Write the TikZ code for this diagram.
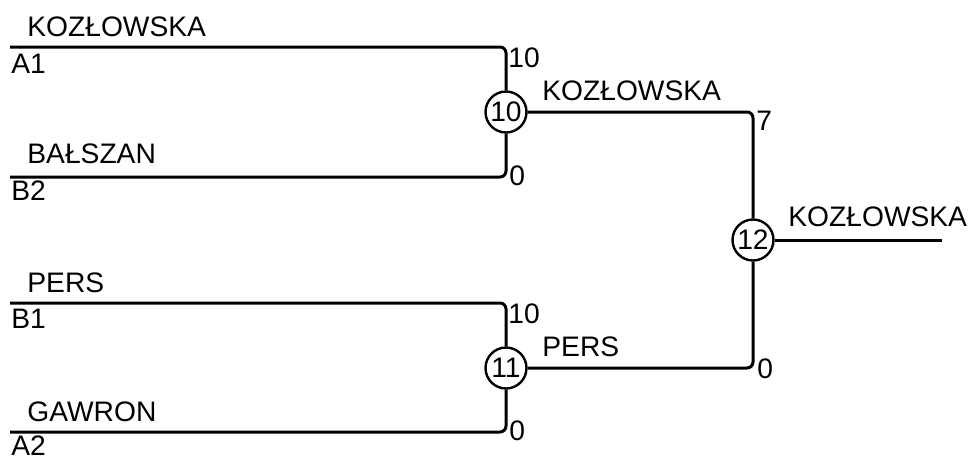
\documentclass[tikz,border=0pt]{standalone}
\usepackage{fontspec}
\setmainfont{Liberation Sans}
\usetikzlibrary{positioning}

\begin{document}
\begin{tikzpicture}[x=0.5pt,y=-0.5pt,
    every node/.style={font=\fontsize{14.1}{17}\selectfont},
    match/.style={draw,circle,line width=1.2pt,minimum size=20.5pt,inner sep=0pt},
    bar/.style={line width=1.5pt,rounded corners=3pt},
    lbl/.style={anchor=base west,inner sep=0pt}]
    \useasboundingbox (0,0) rectangle (971,457);

    % Draw the three matches
    \node[match] (m10) at (506,112) {10};
    \node[match] (m11) at (506,368) {11};
    \node[match] (m12) at (753,240) {12};

    % Starting lines of the first round
    \coordinate (a1) at (10,47);
    \coordinate (b2) at (10,177);
    \coordinate (b1) at (10,303);
    \coordinate (a2) at (10,432);
    \coordinate (win) at (942,240);

    \draw[bar] (a1) -| (m10);
    \draw[bar] (b2) -| (m10);
    \draw[bar] (b1) -| (m11);
    \draw[bar] (a2) -| (m11);
    \draw[bar] (m10) -| (m12);
    \draw[bar] (m11) -| (m12);
    \draw[bar] (m12) -- (win);

    % Players and seeds
    \node[lbl] (n1) at (27,36) {KOZŁOWSKA};
    \node[lbl] (s1) at (11,73) {A1};
    \node[lbl] (n2) at (27,163) {BAŁSZAN};
    \node[lbl] (s2) at (11,200) {B2};
    \node[lbl] (n3) at (27,292) {PERS};
    \node[lbl] (s3) at (11,328) {B1};
    \node[lbl] (n4) at (27,421) {GAWRON};
    \node[lbl] (s4) at (11,455) {A2};
    \node[lbl] (w10) at (542,100) {KOZŁOWSKA};
    \node[lbl] (w11) at (542,356) {PERS};
    \node[lbl] (w12) at (788,226) {KOZŁOWSKA};

    % Scores
    \node[lbl] (r1) at (508,67) {10};
    \node[lbl] (r2) at (509,185) {0};
    \node[lbl] (r3) at (508,323) {10};
    \node[lbl] (r4) at (509,440) {0};
    \node[lbl] (r5) at (756,130) {7};
    \node[lbl] (r6) at (757,378) {0};
\end{tikzpicture}
\end{document}
